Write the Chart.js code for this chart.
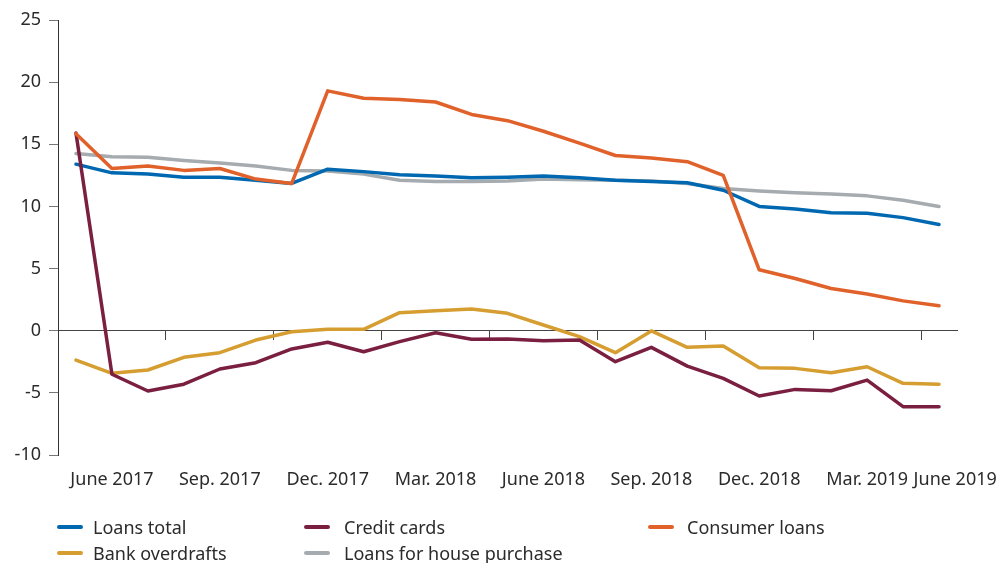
<!DOCTYPE html>
<html>
<head>
<meta charset="utf-8">
<script src="https://cdn.jsdelivr.net/npm/chart.js@4"></script>
<style>
  html, body { margin: 0; padding: 0; background: #fff; }
  #wrap { position: relative; width: 1008px; height: 563px; font-family: "Noto Sans", Lato, sans-serif; }
  #chartBox { position: absolute; left: 0; top: 0; width: 1008px; height: 563px; }
  .sw { position: absolute; width: 26px; height: 4px; border-radius: 2px; }
  .tx { position: absolute; font-size: 18px; color: #2b2b2b; line-height: 22px; white-space: nowrap; }
</style>
</head>
<body>
<div id="wrap">
  <div id="chartBox"><canvas id="c"></canvas></div>
  <div id="legend"></div>
</div>
<script>
// Monthly observations, May 2017 – May 2019
const categories = [
  "May 2017","June 2017","July 2017","Aug. 2017","Sep. 2017","Oct. 2017","Nov. 2017","Dec. 2017",
  "Jan. 2018","Feb. 2018","Mar. 2018","Apr. 2018","May 2018","June 2018","July 2018","Aug. 2018",
  "Sep. 2018","Oct. 2018","Nov. 2018","Dec. 2018","Jan. 2019","Feb. 2019","Mar. 2019","Apr. 2019","May 2019"
];
const tickLabels = ["June 2017","Sep. 2017","Dec. 2017","Mar. 2018","June 2018","Sep. 2018","Dec. 2018","Mar. 2019","June 2019"];
const yTicks = [-10, -5, 0, 5, 10, 15, 20, 25];

const loansTotal = [13.4,12.7,12.6,12.35,12.35,12.1,11.85,13.0,12.8,12.55,12.45,12.3,12.35,12.45,12.3,12.1,12.0,11.9,11.3,10.0,9.8,9.5,9.45,9.1,8.55];
const creditCards = [15.9,-3.5,-4.85,-4.3,-3.08,-2.57,-1.47,-0.93,-1.69,-0.88,-0.16,-0.69,-0.67,-0.8,-0.75,-2.49,-1.34,-2.85,-3.83,-5.25,-4.72,-4.83,-3.97,-6.11,-6.11];
const consumerLoans = [15.85,13.05,13.25,12.9,13.05,12.2,11.85,19.3,18.7,18.6,18.4,17.4,16.9,16.05,15.1,14.1,13.9,13.6,12.5,4.9,4.2,3.4,2.95,2.4,2.0];
const bankOverdrafts = [-2.36,-3.43,-3.16,-2.14,-1.77,-0.75,-0.08,0.11,0.11,1.45,1.61,1.75,1.4,0.46,-0.48,-1.77,-0.02,-1.34,-1.23,-2.97,-3.03,-3.38,-2.9,-4.23,-4.31];
const housePurchase = [14.25,14.0,13.95,13.7,13.5,13.25,12.9,12.85,12.6,12.1,12.0,12.0,12.05,12.2,12.15,12.1,12.05,11.85,11.45,11.25,11.1,11.0,10.85,10.5,10.0];

const seriesDefs = [
  { label: "Loans total", values: loansTotal, color: "#0068b0", order: 3 },
  { label: "Credit cards", values: creditCards, color: "#7a1f40", order: 2 },
  { label: "Consumer loans", values: consumerLoans, color: "#e0612a", order: 1 },
  { label: "Bank overdrafts", values: bankOverdrafts, color: "#d69d30", order: 5 },
  { label: "Loans for house purchase", values: housePurchase, color: "#a5abae", order: 4 }
];

const FONT = "'Noto Sans', Lato, sans-serif";
const nMax = categories.length - 0.5;

const datasets = seriesDefs.map(s => ({
  label: s.label,
  data: s.values.map((v, i) => ({ x: i, y: v })),
  borderColor: s.color,
  backgroundColor: s.color,
  borderWidth: 3.5,
  pointRadius: 0,
  pointHoverRadius: 0,
  tension: 0,
  borderJoinStyle: "round",
  borderCapStyle: "round",
  order: s.order,
  xAxisID: "x",
  yAxisID: "y"
}));

new Chart(document.getElementById("c"), {
  type: "line",
  data: { datasets },
  options: {
    responsive: true,
    maintainAspectRatio: false,
    animation: false,
    layout: { padding: { top: 20, right: 51, left: 0, bottom: 0 } },
    plugins: { legend: { display: false }, tooltip: { enabled: false } },
    scales: {
      x: {
        type: "linear",
        position: "bottom",
        min: -0.5,
        max: nMax,
        afterBuildTicks: s => {
          s.ticks = tickLabels.map((_, k) => ({ value: Math.min(1 + 3 * k, categories.length - 0.55) }));
        },
        afterFit: s => { s.height = 108; s.paddingRight = 0; s.paddingLeft = 0; },
        border: { display: false },
        grid: { display: false, drawTicks: false },
        ticks: {
          autoSkip: false,
          maxRotation: 0,
          padding: 14,
          color: "#2b2b2b",
          font: { family: FONT, size: 18 },
          callback: (v, i) => tickLabels[i]
        }
      },
      x0: {
        type: "linear",
        position: { y: 0 },
        min: -0.5,
        max: nMax,
        afterBuildTicks: s => {
          s.ticks = tickLabels.slice(0, tickLabels.length - 1).map((_, k) => ({ value: 2.5 + 3 * k }));
        },
        border: { display: true, color: "#444", width: 1 },
        grid: { drawOnChartArea: false, drawTicks: true, tickLength: 9, color: "#444", lineWidth: 1 },
        ticks: { display: false }
      },
      y: {
        type: "linear",
        min: -10,
        max: 25,
        afterBuildTicks: s => { s.ticks = yTicks.map(v => ({ value: v })); },
        afterFit: s => { s.width = 58; },
        border: { display: true, color: "#333", width: 1 },
        grid: { drawOnChartArea: false, drawTicks: true, tickLength: 9, color: "#777" },
        ticks: {
          padding: 8,
          color: "#2b2b2b",
          font: { family: FONT, size: 18 }
        }
      }
    }
  }
});

// HTML legend built from the series definitions
const swatchX = [57, 304, 648];
const textX = [93, 344, 687];
const rowY = [527, 553];
const lg = document.getElementById("legend");
seriesDefs.forEach((s, i) => {
  const col = i % 3, row = Math.floor(i / 3);
  const sw = document.createElement("div");
  sw.className = "sw";
  sw.style.left = swatchX[col] + "px";
  sw.style.top = (rowY[row] - 2) + "px";
  sw.style.background = s.color;
  const tx = document.createElement("div");
  tx.className = "tx";
  tx.style.left = textX[col] + "px";
  tx.style.top = (rowY[row] - 11) + "px";
  tx.textContent = s.label;
  lg.appendChild(sw);
  lg.appendChild(tx);
});
</script>
</body>
</html>
